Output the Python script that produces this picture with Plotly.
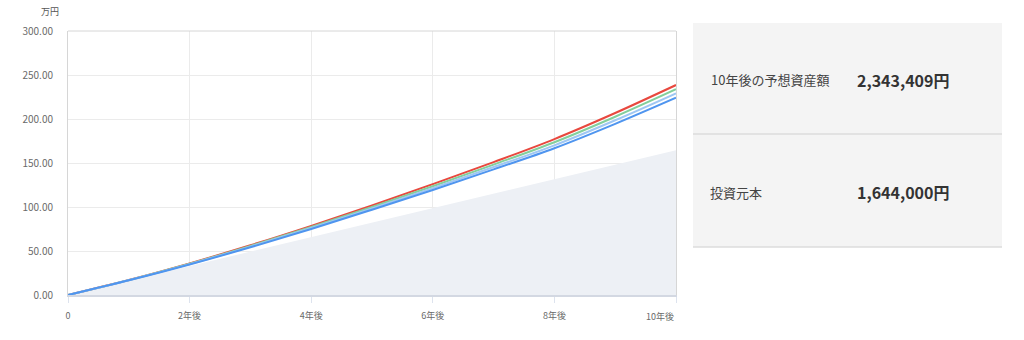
import plotly.graph_objects as go

years = [0, 1, 2, 3, 4, 5, 6, 7, 8, 9, 10]
x_ticks = [0, 2, 4, 6, 8, 10]
x_tick_labels = ["0", "2年後", "4年後", "6年後", "8年後", "10年後"]
y_ticks = [0, 50, 100, 150, 200, 250, 300]

principal = [0, 16.44, 32.88, 49.32, 65.76, 82.2, 98.64, 115.08, 131.52, 147.96, 164.4]
series_red = [0, 17.0, 35.9, 56.5, 78.6, 101.7, 126.0, 151.0, 177.2, 206.8, 238.6]
series_green = [0, 16.9, 35.5, 55.8, 77.3, 100.0, 123.6, 148.2, 173.6, 202.6, 233.8]
series_lightblue = [0, 16.8, 35.1, 55.0, 76.1, 98.4, 121.5, 145.4, 170.1, 198.6, 229.2]
series_blue = [0, 16.7, 34.7, 54.2, 75.0, 96.9, 119.4, 142.8, 166.8, 194.5, 224.2]

label_total = "10年後の予想資産額"
value_total = "2,343,409円"
label_principal = "投資元本"
value_principal = "1,644,000円"
unit_label = "万円"

FONT = "Noto Sans CJK JP, Noto Sans, sans-serif"

fig = go.Figure()
fig.add_trace(go.Scatter(x=years, y=principal, mode="lines", line=dict(width=0, color="#edf0f5"),
                         fill="tozeroy", fillcolor="#edf0f5", hoverinfo="skip", showlegend=False))
for ys, col in [(series_red, "#e8483e"), (series_green, "#83cf9c"),
                (series_lightblue, "#9fc7f3"), (series_blue, "#4f95ef")]:
    fig.add_trace(go.Scatter(x=years, y=ys, mode="lines", line=dict(width=2, color=col, shape="spline"),
                             showlegend=False))

# last tick label is drawn right-aligned at the axis end, like the reference
shown_tick_text = x_tick_labels[:-1] + [""]

fig.update_layout(
    width=1024, height=340,
    margin=dict(l=68, r=348, t=31, b=45),
    paper_bgcolor="white", plot_bgcolor="white",
    font=dict(family=FONT, color="#666666"),
    xaxis=dict(range=[0, 10], tickvals=x_ticks, ticktext=shown_tick_text, showgrid=True,
               gridcolor="#ebebeb", gridwidth=1, zeroline=False, showline=True, linecolor="#d3d8e2",
               linewidth=2, mirror=False, ticks="outside", ticklen=6, tickcolor="#dde3ee",
               tickfont=dict(size=9, color="#6a6a6a"), ticklabelstandoff=5),
    yaxis=dict(range=[0, 300], tickvals=y_ticks, tickformat=".2f", showgrid=True,
               gridcolor="#ebebeb", gridwidth=1, zeroline=False, showline=True, linecolor="#d6d6d6",
               linewidth=1, mirror=True, ticks="", tickfont=dict(size=10, color="#6a6a6a"),
               ticklabelstandoff=12),
)

fig.add_annotation(text=x_tick_labels[-1], xref="x", yref="paper", x=10, y=(295 - 316) / 264,
                   xanchor="right", yanchor="middle", showarrow=False,
                   font=dict(size=9, color="#6a6a6a"))

fig.add_shape(type="line", xref="paper", yref="paper", x0=0, x1=1, y0=1, y1=1,
              line=dict(color="#d6d6d6", width=1))

fig.add_annotation(text=unit_label, xref="paper", yref="paper", x=(50 - 68) / 608, y=(295 - 11) / 264,
                   xanchor="center", yanchor="middle", showarrow=False, font=dict(size=9, color="#555555"))


def px(xp):
    return (xp - 68) / 608


def py(yp):
    return (295 - yp) / 264


fig.add_shape(type="rect", xref="paper", yref="paper", x0=px(693), x1=px(1002), y0=py(247), y1=py(23),
              fillcolor="#f4f4f4", line=dict(width=0), layer="below")
for yl in [134, 247]:
    fig.add_shape(type="line", xref="paper", yref="paper", x0=px(693), x1=px(1002), y0=py(yl), y1=py(yl),
                  line=dict(color="#dcdcdc", width=1.5))

fig.add_annotation(text=label_total, xref="paper", yref="paper", x=px(709), y=py(80), xanchor="left",
                   yanchor="middle", showarrow=False, font=dict(size=13, color="#444444"))
fig.add_annotation(text=value_total, xref="paper", yref="paper", x=px(855), y=py(80),
                   xanchor="left", yanchor="middle", showarrow=False,
                   font=dict(size=16, color="#333333", weight=600))
fig.add_annotation(text=label_principal, xref="paper", yref="paper", x=px(708), y=py(192), xanchor="left",
                   yanchor="middle", showarrow=False, font=dict(size=13, color="#444444"))
fig.add_annotation(text=value_principal, xref="paper", yref="paper", x=px(855), y=py(192),
                   xanchor="left", yanchor="middle", showarrow=False,
                   font=dict(size=16, color="#333333", weight=600))

fig.write_html("out.html")
